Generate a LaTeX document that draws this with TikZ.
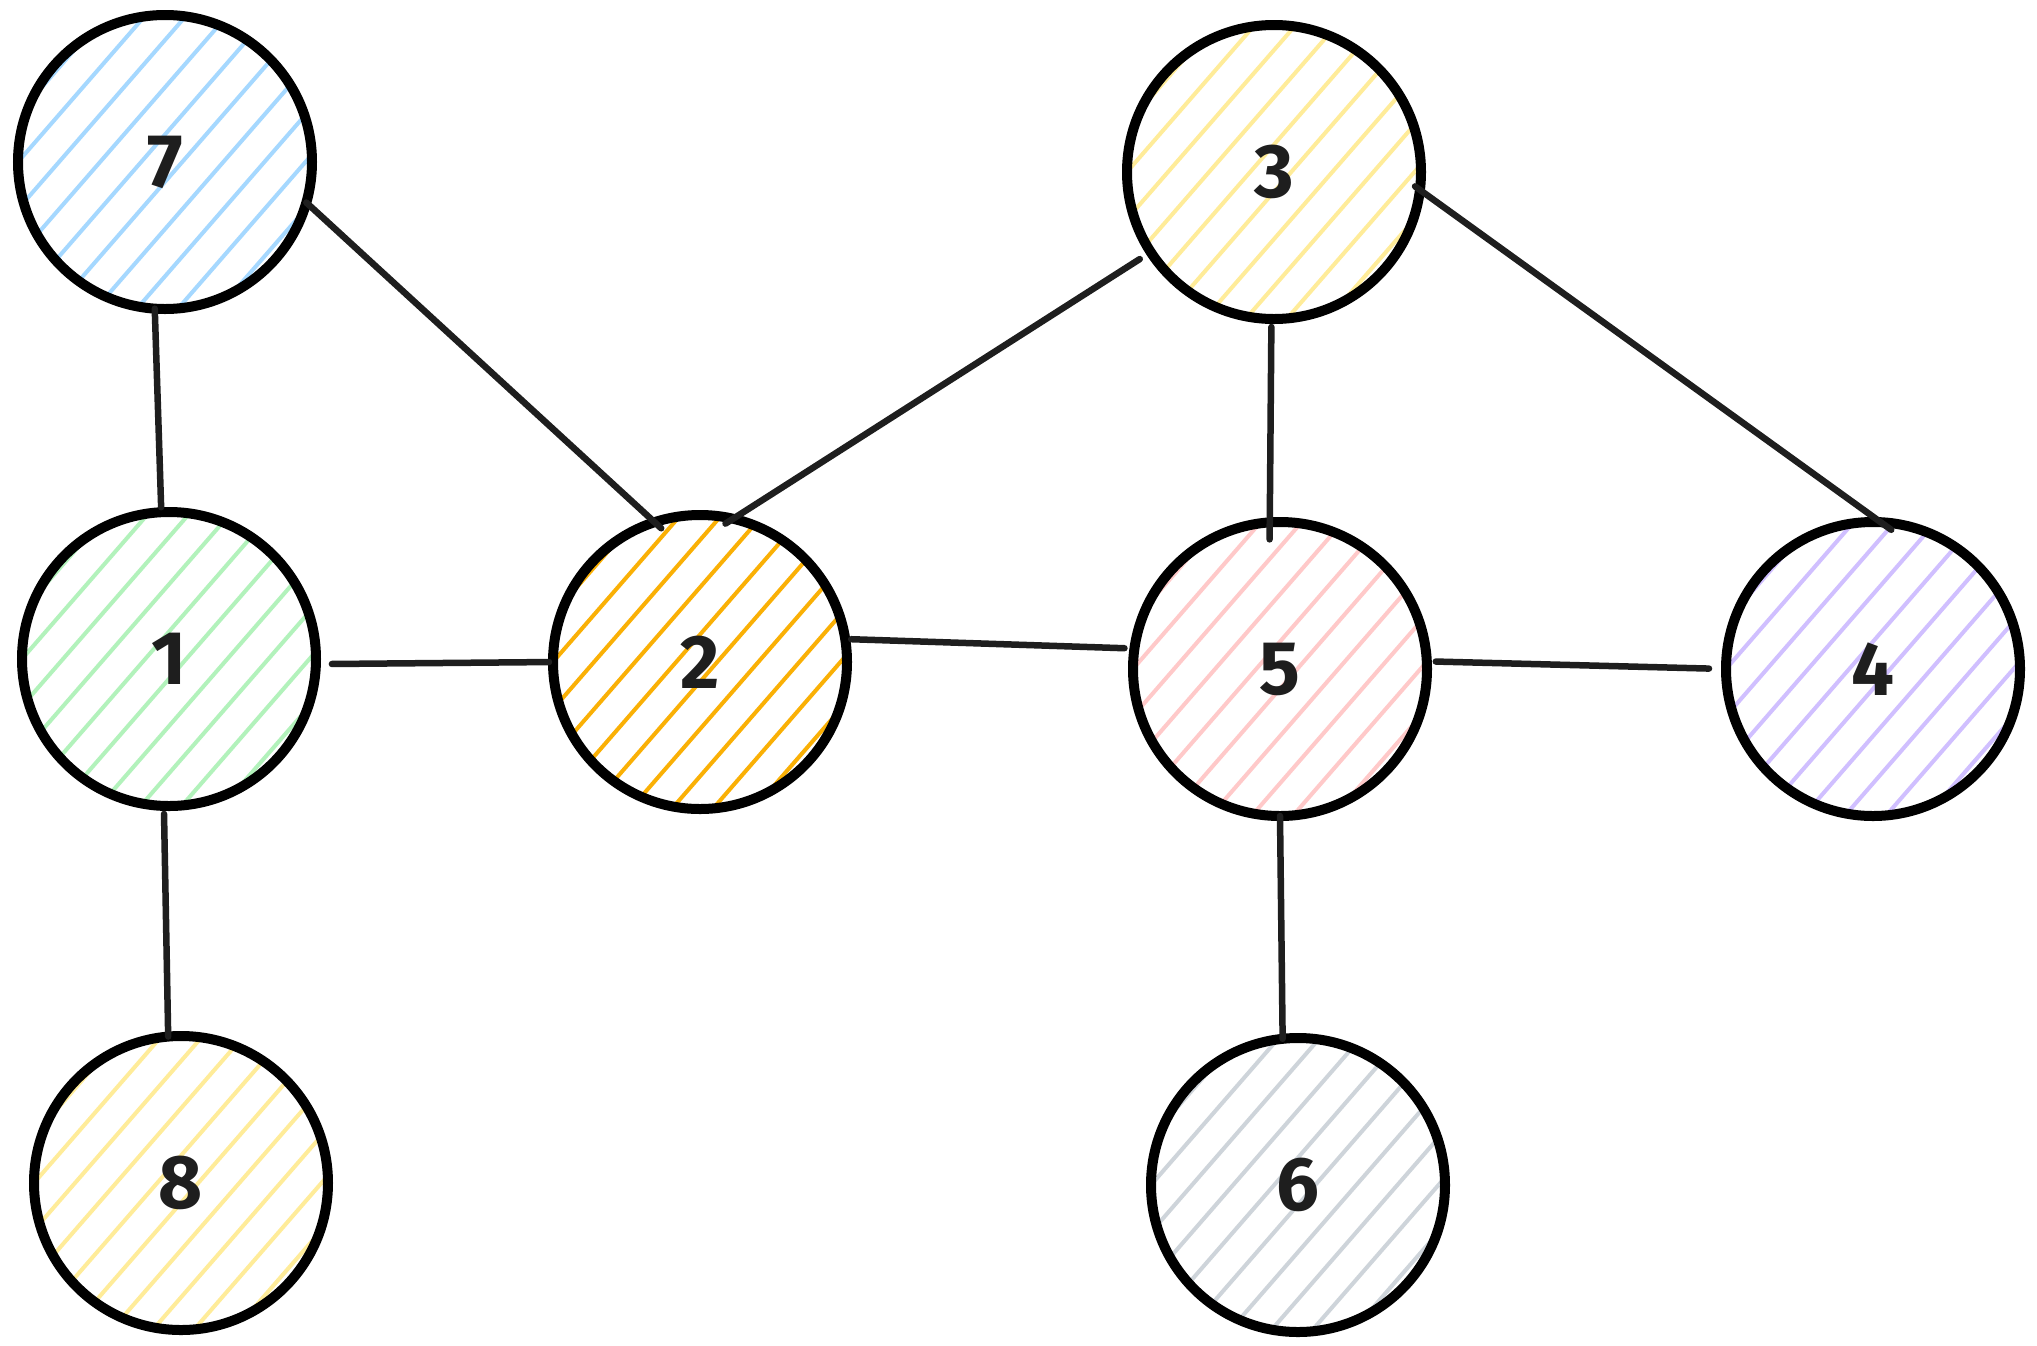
\documentclass[tikz,border=0pt]{standalone}
\usepackage{fontspec}
\setmainfont{Fira Sans}
\usetikzlibrary{backgrounds}
\definecolor{ink}{HTML}{1E1E1E}
\definecolor{hblue}{HTML}{A5D8FF}
\definecolor{hyellow}{HTML}{FFEC99}
\definecolor{hgreen}{HTML}{B2F2BB}
\definecolor{horange}{HTML}{FAB005}
\definecolor{hpink}{HTML}{FFC9C9}
\definecolor{hviolet}{HTML}{D0BFFF}
\definecolor{hgray}{HTML}{CED4DA}
\tikzset{
  vertex/.style={circle, draw=black, line width=10pt, minimum size=294pt, inner sep=0pt, outer sep=0pt,
    text=ink, font=\fontsize{76}{76}\selectfont\bfseries},
  edge/.style={draw=ink, line width=6.5pt, line cap=round},
  hatchline/.style={line width=4pt, line cap=round}
}
\begin{document}
\begin{tikzpicture}[x=1pt,y=-1pt]
\useasboundingbox (0,0) rectangle (2037,1345);
\node[vertex] (n7) at (165,162) {7};
\node[vertex] (n3) at (1274,172) {3};
\node[vertex] (n1) at (169,659) {1};
\node[vertex] (n2) at (700,662) {2};
\node[vertex] (n5) at (1280,669) {5};
\node[vertex] (n4) at (1873,669) {4};
\node[vertex] (n8) at (181,1183) {8};
\node[vertex] (n6) at (1298,1185) {6};
\begin{pgfonlayer}{background}
  \fill[white] (0,0) rectangle (2037,1345);
\end{pgfonlayer}
\foreach \n/\c in {n7/hblue,n3/hyellow,n1/hgreen,n2/horange,n5/hpink,n4/hviolet,n8/hyellow,n6/hgray}{
  \begin{pgfonlayer}{background}
  \begin{scope}
    \clip (\n.center) circle[radius=143pt];
    \begin{scope}[shift={(\n.center)}, rotate=49]
      \foreach \k in {-5,...,4}
        \draw[hatchline, draw=\c] (-170pt,\k*31pt+18pt) -- (170pt,\k*31pt+18pt);
    \end{scope}
  \end{scope}
  \end{pgfonlayer}
}
\draw[edge, shorten >=5pt] (n7.-94) -- (n1.93);
\draw[edge, shorten >=-9pt] (n7.-16) -- (n2.108);
\draw[edge, shorten <=13pt, shorten >=-9pt] (n3.213) -- (n2.77);
\draw[edge, shorten <=8pt, shorten >=-17pt] (n3.-91) -- (n5.94);
\draw[edge, shorten <=-6pt, shorten >=-13pt] (n3.-7) -- (n4.87);
\draw[edge, shorten <=16pt, shorten >=4pt] (n1.-2) -- (n2.180);
\draw[edge, shorten <=6pt, shorten >=10pt] (n2.9) -- (n5.172);
\draw[edge, shorten <=9pt, shorten >=17pt] (n5.3) -- (n4.180);
\draw[edge, shorten <=8pt] (n1.-92) -- (n8.95);
\draw[edge] (n5.-90) -- (n6.96);
\end{tikzpicture}
\end{document}
